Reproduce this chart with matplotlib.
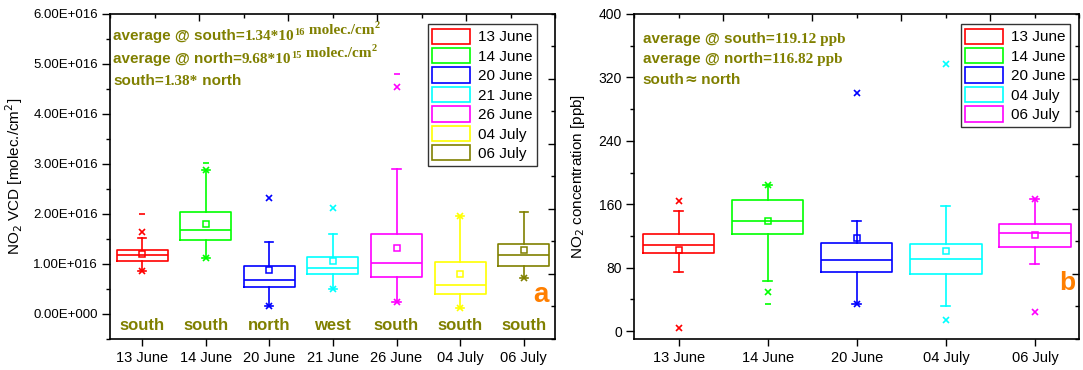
import numpy as np
import matplotlib
matplotlib.use("Agg")
import matplotlib.pyplot as plt
from matplotlib.patches import Rectangle
from matplotlib.ticker import FuncFormatter, MultipleLocator

plt.rcParams['font.family'] = ['Liberation Sans', 'DejaVu Sans']

OLIVE = "#808000"
ORANGE = "#ff7f00"

# panel a: NO2 VCD, in units of 1E16 molec./cm2
days_a = ["13 June", "14 June", "20 June", "21 June", "26 June", "04 July", "06 July"]
colors_a = ["#ff0000", "#00ff00", "#0000ff", "#00ffff", "#ff00ff", "#ffff00", "#808000"]
wind_a = ["south", "south", "north", "west", "south", "south", "south"]
q1_a = [1.06, 1.47, 0.53, 0.79, 0.73, 0.39, 0.95]
med_a = [1.18, 1.67, 0.67, 0.92, 1.01, 0.58, 1.17]
q3_a = [1.28, 2.03, 0.95, 1.14, 1.60, 1.04, 1.39]
mean_a = [1.19, 1.80, 0.87, 1.05, 1.32, 0.80, 1.27]
whislo_a = [0.85, 1.11, 0.15, 0.50, 0.24, 0.12, 0.72]
whishi_a = [1.51, 2.87, 1.43, 1.60, 2.89, 1.95, 2.03]
p1_a = [0.85, 1.11, 0.15, 0.50, 0.24, 0.12, 0.72]
p99_a = [1.63, 2.87, 2.32, 2.11, 4.54, 1.95, np.nan]
min_a = [np.nan] * 7
max_a = [1.99, 3.02, np.nan, np.nan, 4.79, np.nan, np.nan]

# panel b: NO2 concentration, ppb
days_b = ["13 June", "14 June", "20 June", "04 July", "06 July"]
colors_b = ["#ff0000", "#00ff00", "#0000ff", "#00ffff", "#ff00ff"]
q1_b = [98.4, 122.4, 74.8, 72.3, 106.3]
med_b = [108.5, 139.2, 89.6, 90.8, 123.6]
q3_b = [122.4, 165.3, 110.5, 109.3, 135.4]
mean_b = [102.6, 139.0, 116.8, 101.3, 121.1]
whislo_b = [74.4, 63.5, 34.0, 31.5, 84.0]
whishi_b = [152.0, 183.7, 139.2, 158.0, 166.5]
p1_b = [3.3, 49.6, 34.0, 13.9, 24.3]
p99_b = [164.4, 183.7, 300.0, 336.3, 166.5]
min_b = [np.nan, 34.0, np.nan, np.nan, np.nan]
max_b = [np.nan] * 5


def sci_fmt(v, pos):
    if abs(v) < 1e-9:
        return "0.00E+000"
    val = v * 1e16
    e = int(np.floor(np.log10(abs(val))))
    return f"{val / 10**e:.2f}E+{e:03d}"


def draw_boxes(ax, colors, q1, med, q3, mean, wlo, whi, p1, p99, mn, mx, capw):
    for i, c in enumerate(colors):
        fl = np.array([p1[i], p99[i]])
        fl = fl[~np.isnan(fl)]
        st = dict(q1=q1[i], med=med[i], q3=q3[i], mean=mean[i],
                  whislo=wlo[i], whishi=whi[i], fliers=fl)
        lw = 1.2
        ax.bxp([st], positions=[i + 1], widths=0.8, showmeans=True,
               capwidths=capw,
               boxprops=dict(color=c, lw=lw),
               medianprops=dict(color=c, lw=lw),
               whiskerprops=dict(color=c, lw=lw),
               capprops=dict(color=c, lw=lw),
               meanprops=dict(marker="s", markersize=4.5, mfc="none", mec=c, mew=1.1),
               flierprops=dict(marker="x", markersize=4.5, mec=c, mew=1.2))
        for v in (mn[i], mx[i]):
            if not np.isnan(v):
                ax.plot([i + 1], [v], marker="_", ms=5, mew=1.2, color=c)


def frame_ticks(ax):
    # mirrored ticks on right and top spines (10 divisions)
    axr = ax.twinx()
    axr.set_ylim(0, 1)
    axr.set_yticks([0.2, 0.4, 0.6, 0.8])
    axr.yaxis.set_minor_locator(MultipleLocator(0.1))
    axr.tick_params(axis="y", which="both", direction="in", labelright=False, width=1)
    axr.tick_params(axis="y", which="major", length=5)
    axr.tick_params(axis="y", which="minor", length=3)
    axt = ax.twiny()
    axt.set_xlim(0, 1)
    axt.set_xticks([0.2, 0.4, 0.6, 0.8])
    axt.xaxis.set_minor_locator(MultipleLocator(0.1))
    axt.tick_params(axis="x", which="both", direction="in", labeltop=False, width=1)
    axt.tick_params(axis="x", which="major", length=5)
    axt.tick_params(axis="x", which="minor", length=3)
    for a in (axr, axt):
        for s in a.spines.values():
            s.set_visible(False)


def chain_text(ax, x, y, parts):
    prev = None
    for txt, fam, size, up in parts:
        kw = dict(fontsize=size, fontweight="bold", color=OLIVE, family=fam)
        if prev is None:
            prev = ax.text(x, y, txt, transform=ax.transAxes, va="center", **kw)
        else:
            prev = ax.annotate(txt, xy=(1, up), xycoords=prev, va="bottom", **kw)


def legend_boxes(ax, colors, labels, anchor):
    handles = [Rectangle((0, 0), 1, 1, fc="none", ec=c, lw=1.2) for c in colors]
    leg = ax.legend(handles, labels, loc="upper right", bbox_to_anchor=anchor,
                    fontsize=11, frameon=True, fancybox=False, edgecolor="black",
                    handlelength=2.5, handleheight=1.15, labelspacing=0.24,
                    handletextpad=0.5, borderpad=0.3, borderaxespad=0)
    leg.get_frame().set_linewidth(1.0)


fig = plt.figure(figsize=(10.83, 3.70), dpi=100)
ax1 = fig.add_axes([0.1019, 0.0838, 0.411, 0.8784])
ax2 = fig.add_axes([0.5857, 0.0838, 0.411, 0.8784])

SANS = ["Liberation Sans", "DejaVu Sans"]
SERIF = ["Liberation Serif", "DejaVu Serif"]

# ---- panel a
draw_boxes(ax1, colors_a, q1_a, med_a, q3_a, mean_a, whislo_a, whishi_a,
           p1_a, p99_a, min_a, max_a, 0.13)
ax1.set_xlim(0.5, 7.5)
ax1.set_ylim(-0.5, 6.0)
ax1.set_xticks(range(1, 8))
ax1.set_xticklabels(days_a, fontsize=10.5)
ax1.yaxis.set_major_locator(MultipleLocator(1.0))
ax1.yaxis.set_minor_locator(MultipleLocator(0.5))
ax1.yaxis.set_major_formatter(FuncFormatter(sci_fmt))
ax1.tick_params(axis="y", which="major", labelsize=9.5, length=6, width=1, pad=3)
ax1.tick_params(axis="y", which="minor", length=3, width=1)
ax1.tick_params(axis="x", length=5, width=1, pad=4)
ax1.set_ylabel("NO$_2$ VCD [molec./cm$^2$]", fontsize=11, labelpad=6)
for i, w in enumerate(wind_a):
    ax1.text(i + 1, 0.04, w, transform=ax1.get_xaxis_transform(), ha="center",
             va="center", fontsize=12, fontweight="bold", color=OLIVE)
ax1.text(0.967, 0.135, "a", transform=ax1.transAxes, ha="center", va="center",
         fontsize=20, fontweight="bold", color=ORANGE)
chain_text(ax1, 0.006, 0.932, [("average @ south=", SANS, 11, 0),
                               ("1.34*10", SERIF, 11, 0),
                               ("16", SERIF, 7.5, 0.5),
                               (" molec./cm", SERIF, 11, 0),
                               ("2", SERIF, 7.5, 0.5)])
chain_text(ax1, 0.006, 0.861, [("average @ north=", SANS, 11, 0),
                               ("9.68*10", SERIF, 11, 0),
                               ("15", SERIF, 7.5, 0.5),
                               (" molec./cm", SERIF, 11, 0),
                               ("2", SERIF, 7.5, 0.5)])
chain_text(ax1, 0.006, 0.795, [("south=", SANS, 11, 0),
                               ("1.38*", SERIF, 11, 0),
                               (" north", SANS, 11, 0)])
legend_boxes(ax1, colors_a, days_a, (0.959, 0.969))

# ---- panel b
draw_boxes(ax2, colors_b, q1_b, med_b, q3_b, mean_b, whislo_b, whishi_b,
           p1_b, p99_b, min_b, max_b, 0.1)
ax2.set_xlim(0.5, 5.5)
ax2.set_ylim(-10, 400)
ax2.set_xticks(range(1, 6))
ax2.set_xticklabels(days_b, fontsize=10.5)
ax2.yaxis.set_major_locator(MultipleLocator(80))
ax2.yaxis.set_minor_locator(MultipleLocator(40))
ax2.tick_params(axis="y", which="major", labelsize=10, length=6, width=1, pad=3)
ax2.tick_params(axis="y", which="minor", length=3, width=1)
ax2.tick_params(axis="x", length=5, width=1, pad=4)
ax2.set_ylabel("NO$_2$ concentration [ppb]", fontsize=11, labelpad=8)
ax2.text(0.972, 0.172, "b", transform=ax2.transAxes, ha="center", va="center",
         fontsize=19, fontweight="bold", color=ORANGE)
chain_text(ax2, 0.019, 0.922, [("average @ south=", SANS, 11, 0),
                               ("119.12 ppb", SERIF, 11, 0)])
chain_text(ax2, 0.019, 0.861, [("average @ north=", SANS, 11, 0),
                               ("116.82 ppb", SERIF, 11, 0)])
chain_text(ax2, 0.019, 0.797, [("south", SANS, 11, 0),
                               ("\u2248", ["DejaVu Sans"], 11, 0),
                               (" north", SANS, 11, 0)])
legend_boxes(ax2, colors_b, days_b, (0.979, 0.969))

for ax in (ax1, ax2):
    for s in ax.spines.values():
        s.set_linewidth(1.2)
    frame_ticks(ax)

fig.savefig("out.png", dpi=100)
